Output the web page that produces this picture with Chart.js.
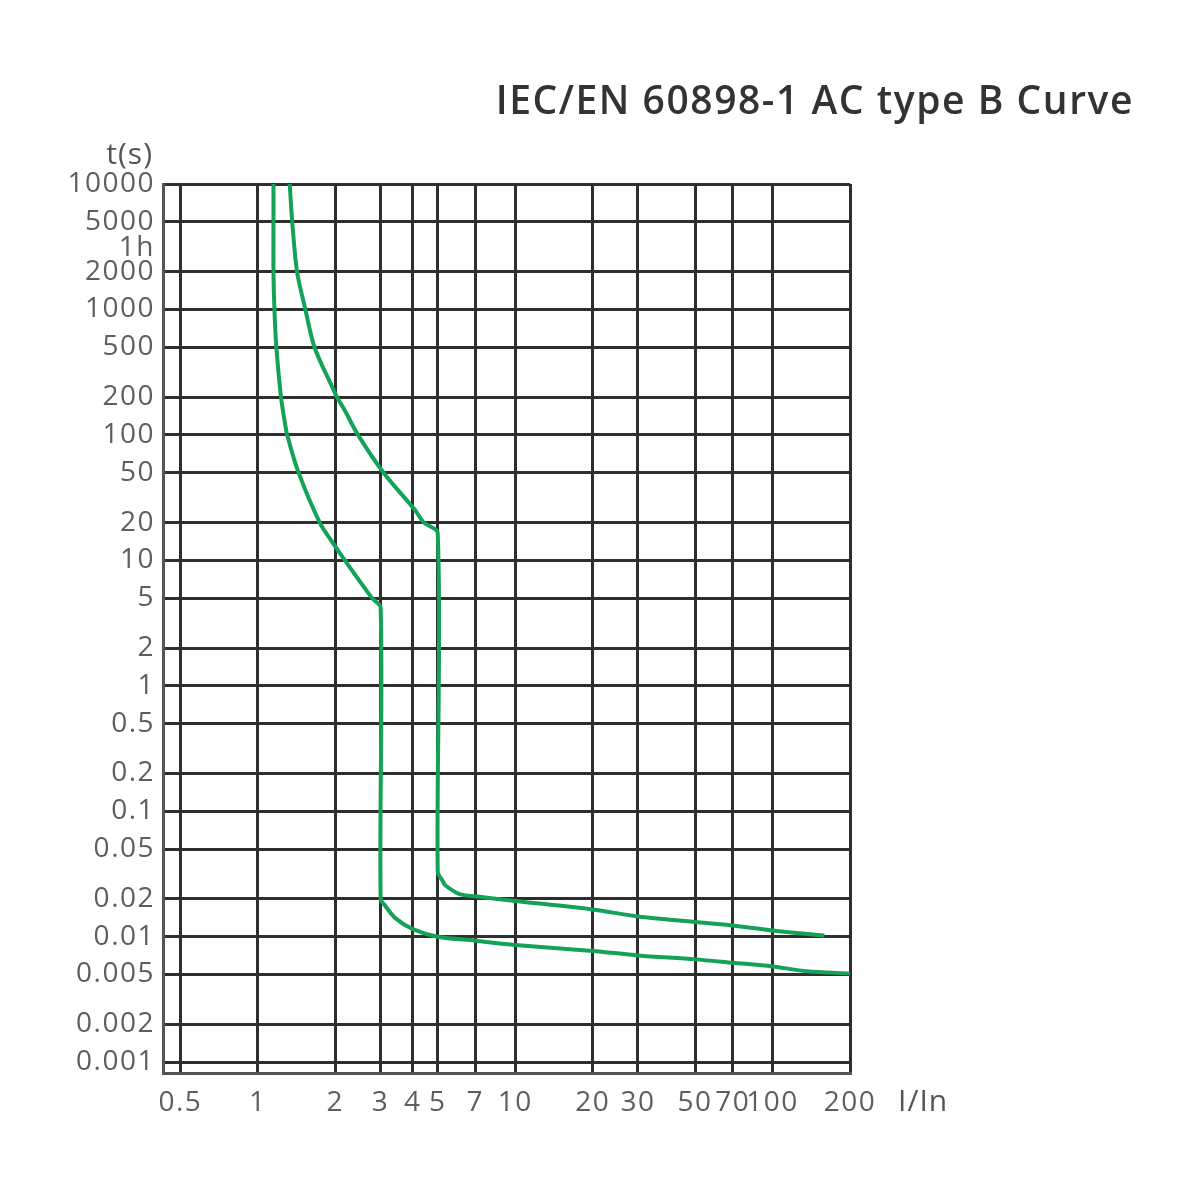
<!DOCTYPE html>
<html>
<head>
<meta charset="utf-8">
<script src="https://cdn.jsdelivr.net/npm/chart.js@4.4.1/dist/chart.umd.min.js"></script>
<style>
    body { margin: 0; background: #fff; }
    #wrap { position: relative; width: 1200px; height: 1200px; }
    .lbl { position: absolute; font-family: "Open Sans", sans-serif; line-height: 1; white-space: nowrap; }
    #title { right: 66px; top: 79px; font-size: 39px; font-weight: 600; color: #333; letter-spacing: 1.55px; }
    #yunit { right: 1047px; top: 138px; font-size: 30px; color: #555; letter-spacing: 1px; }
    #xunit { left: 898px; top: 1085px; font-size: 30px; color: #555; letter-spacing: 1px; }
</style>
</head>
<body>
<div id="wrap">
    <canvas id="curveChart" width="1200" height="1200"></canvas>
    <div class="lbl" id="title">IEC/EN 60898-1 AC type B Curve</div>
    <div class="lbl" id="yunit">t(s)</div>
    <div class="lbl" id="xunit">I/In</div>
</div>
<script>
// tick values and labels (x = I/In, y = t in seconds)
const xTickValues = [0.5, 1, 2, 3, 4, 5, 7, 10, 20, 30, 50, 70, 100, 200];
const xTickLabels = ['0.5', '1', '2', '3', '4', '5', '7', '10', '20', '30', '50', '70', '100', '200'];
const yTickValues = [10000, 5000, 3600, 2000, 1000, 500, 200, 100, 50, 20, 10, 5, 2, 1, 0.5, 0.2, 0.1, 0.05, 0.02, 0.01, 0.005, 0.002, 0.001];
const yTickLabels = ['10000', '5000', '1h', '2000', '1000', '500', '200', '100', '50', '20', '10', '5', '2', '1', '0.5', '0.2', '0.1', '0.05', '0.02', '0.01', '0.005', '0.002', '0.001'];

// lower (left) tripping curve
const lowerI = [1.15, 1.15, 1.15, 1.16, 1.18, 1.23, 1.27, 1.30, 1.44, 1.74, 1.95, 2.18, 2.78, 3.0, 3.0, 3.13, 3.43, 4, 5, 7, 10, 20, 30, 50, 70, 100, 136, 200];
const lowerT = [10000, 5000, 2000, 1000, 500, 200, 130, 100, 50, 20, 13.9, 10, 5, 4.2, 0.02, 0.0176, 0.014, 0.0115, 0.01, 0.0093, 0.0086, 0.0077, 0.0071, 0.0066, 0.0062, 0.0058, 0.0053, 0.0051];

// upper (right) tripping curve
const upperI = [1.33, 1.36, 1.42, 1.53, 1.66, 1.95, 2.03, 2.18, 2.45, 3.08, 4.06, 4.42, 5.0, 5.0, 5.22, 5.36, 6.08, 7, 10, 20, 30, 50, 70, 100, 159];
const upperT = [10000, 5000, 2000, 1000, 500, 238, 200, 156, 100, 50, 25.5, 20, 16.5, 0.033, 0.028, 0.0256, 0.0219, 0.021, 0.0193, 0.0165, 0.0145, 0.0131, 0.0123, 0.0112, 0.0102];

document.addEventListener('DOMContentLoaded', () => {
    const ctx = document.getElementById('curveChart').getContext('2d');
    const green = '#12a259';
    const gridColor = '#2e2e2e';
    const labelFont = { family: '"Open Sans", sans-serif', size: 28 };

    const toPoints = (xs, ys) => xs.map((x, i) => ({ x: x, y: ys[i] }));

    // wider letter spacing for the tick labels
    const spacing = {
        id: 'spacing',
        beforeDraw: (chart) => { chart.ctx.letterSpacing = '1.5px'; }
    };

    new Chart(ctx, {
        type: 'line',
        data: {
            datasets: [{
                label: 'lower',
                data: toPoints(lowerI, lowerT),
                borderColor: green,
                borderWidth: 4,
                pointRadius: 0,
                tension: 0.3,
                fill: false
            }, {
                label: 'upper',
                data: toPoints(upperI, upperT),
                borderColor: green,
                borderWidth: 4,
                pointRadius: 0,
                tension: 0.3,
                fill: false
            }]
        },
        options: {
            responsive: false,
            animation: false,
            layout: {
                padding: { top: 184, right: 350, bottom: 0, left: 0 }
            },
            scales: {
                x: {
                    type: 'logarithmic',
                    min: 0.428,
                    max: 200,
                    afterBuildTicks: (scale) => {
                        scale.ticks = xTickValues.map(v => ({ value: v }));
                    },
                    afterFit: (scale) => { scale.height = 127; },
                    ticks: {
                        autoSkip: false,
                        maxRotation: 0,
                        padding: 13,
                        color: '#5e5e5e',
                        font: labelFont,
                        callback: (value) => xTickLabels[xTickValues.indexOf(value)]
                    },
                    grid: {
                        color: gridColor,
                        lineWidth: 3,
                        drawTicks: false
                    },
                    border: { display: true, color: '#555', width: 3 }
                },
                y: {
                    type: 'logarithmic',
                    min: 0.00082,
                    max: 10000,
                    afterBuildTicks: (scale) => {
                        scale.ticks = yTickValues.map(v => ({ value: v }));
                    },
                    afterFit: (scale) => { scale.width = 163; },
                    ticks: {
                        autoSkip: false,
                        padding: 8,
                        color: '#5e5e5e',
                        // "1h" sits a little below its line in the original, so it gets an empty first line
                        font: (c) => (c.tick && c.tick.value === 3600)
                            ? { family: labelFont.family, size: 28, lineHeight: 0.6 }
                            : labelFont,
                        callback: (value) => {
                            const label = yTickLabels[yTickValues.indexOf(value)];
                            return value === 3600 ? ['', label] : label;
                        }
                    },
                    grid: {
                        // no grid line for the "1h" mark
                        color: (c) => (c.tick && c.tick.value === 3600) ? 'rgba(0,0,0,0)' : gridColor,
                        lineWidth: 3,
                        drawTicks: false
                    },
                    border: { display: true, color: '#555', width: 3 }
                }
            },
            plugins: {
                legend: { display: false },
                tooltip: { enabled: false },
                title: { display: false }
            }
        },
        plugins: [spacing]
    });
});
</script>
</body>
</html>
